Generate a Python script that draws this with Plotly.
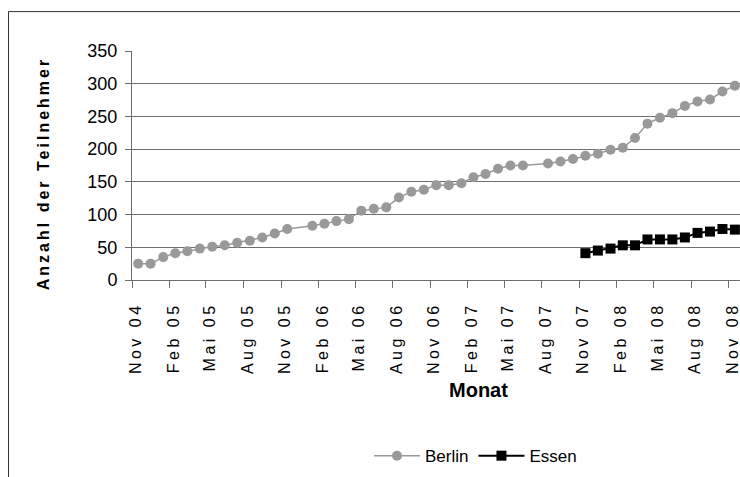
import plotly.graph_objects as go

# Monthly participant counts (one value per month, months without data are skipped)
berlin_months = [
    "2004-11", "2004-12", "2005-01", "2005-02", "2005-03", "2005-04", "2005-05",
    "2005-06", "2005-07", "2005-08", "2005-09", "2005-10", "2005-11",
    "2006-01", "2006-02", "2006-03", "2006-04", "2006-05", "2006-06", "2006-07",
    "2006-08", "2006-09", "2006-10", "2006-11", "2006-12",
    "2007-01", "2007-02", "2007-03", "2007-04", "2007-05", "2007-06",
    "2007-08", "2007-09", "2007-10", "2007-11", "2007-12",
    "2008-01", "2008-02", "2008-03", "2008-04", "2008-05", "2008-06",
    "2008-07", "2008-08", "2008-09", "2008-10", "2008-11",
]
berlin_values = [
    25, 25, 35, 41, 44, 48, 51, 53, 57, 60, 65, 71, 78,
    83, 86, 90, 93, 106, 109, 111, 126, 135, 138, 145, 145,
    148, 157, 162, 170, 175, 175,
    178, 181, 185, 190, 193,
    199, 202, 217, 239, 248, 255, 266, 273, 276, 288, 297,
]

essen_months = [
    "2007-11", "2007-12", "2008-01", "2008-02", "2008-03", "2008-04", "2008-05",
    "2008-06", "2008-07", "2008-08", "2008-09", "2008-10", "2008-11",
]
essen_values = [41, 45, 48, 53, 53, 62, 62, 62, 65, 72, 74, 78, 77]

tick_dates = [
    "2004-11-01", "2005-02-01", "2005-05-01", "2005-08-01", "2005-11-01",
    "2006-02-01", "2006-05-01", "2006-08-01", "2006-11-01", "2007-02-01",
    "2007-05-01", "2007-08-01", "2007-11-01", "2008-02-01", "2008-05-01",
    "2008-08-01", "2008-11-01",
]
tick_labels = [
    "Nov 04", "Feb 05", "Mai 05", "Aug 05", "Nov 05", "Feb 06", "Mai 06",
    "Aug 06", "Nov 06", "Feb 07", "Mai 07", "Aug 07", "Nov 07", "Feb 08",
    "Mai 08", "Aug 08", "Nov 08",
]

FONT = "Liberation Sans, Arial, sans-serif"
W, H = 740, 477
L, T, B = 132, 51, 196.5
plot_w = W - L
plot_h = H - T - B


def px_x(x):
    return (x - L) / plot_w


def px_y(y):
    return (H - B - y) / plot_h


def spaced(text, gap):
    return f'<span style="letter-spacing:{gap}px">{text}</span>'


fig = go.Figure()

fig.add_trace(go.Scatter(
    x=[m + "-01" for m in berlin_months], y=berlin_values,
    xperiod="M1", xperiodalignment="middle",
    mode="lines+markers", name="Berlin",
    line=dict(color="#999999", width=1.5),
    marker=dict(symbol="circle", size=10, color="#999999"),
))
fig.add_trace(go.Scatter(
    x=[m + "-01" for m in essen_months], y=essen_values,
    xperiod="M1", xperiodalignment="middle",
    mode="lines+markers", name="Essen",
    line=dict(color="#000000", width=2),
    marker=dict(symbol="square", size=10, color="#000000"),
))

fig.update_layout(
    width=W, height=H,
    margin=dict(l=L, r=0, t=T, b=B, pad=0),
    paper_bgcolor="white", plot_bgcolor="white",
    font=dict(family=FONT, color="#000000"),
    showlegend=True,
    legend=dict(
        orientation="h", x=px_x(369), y=px_y(457),
        xanchor="left", yanchor="middle",
        font=dict(size=17, family=FONT), bgcolor="rgba(0,0,0,0)",
        itemwidth=46, tracegroupgap=0,
    ),
    xaxis=dict(
        type="date",
        range=["2004-11-01", "2008-11-28 12:00"],
        tickmode="array", tickvals=tick_dates,
        ticktext=[spaced(t, 3.5) for t in tick_labels],
        tickangle=-90, ticklabelshift=4, ticklabelstandoff=8,
        ticklabeloverflow="allow",
        ticks="outside", ticklen=7, tickcolor="#6e6e6e", tickwidth=1,
        tickfont=dict(size=16, family=FONT),
        showline=True, linecolor="#6e6e6e", linewidth=1,
        showgrid=False, zeroline=False, automargin=False,
    ),
    yaxis=dict(
        range=[0, 350], tickmode="linear", tick0=0, dtick=50,
        ticks="outside", ticklen=6, tickcolor="#6e6e6e", tickwidth=1,
        tickfont=dict(size=18, family=FONT),
        showline=True, linecolor="#6e6e6e", linewidth=1,
        showgrid=True, gridcolor="#6e6e6e", gridwidth=1,
        zeroline=False, automargin=False, ticklabelstandoff=4,
    ),
    annotations=[
        dict(text=spaced("<b>Anzahl der Teilnehmer</b>", 3), textangle=-90,
             xref="paper", yref="paper", x=px_x(43), y=px_y(174.5),
             xanchor="center", yanchor="middle", showarrow=False,
             font=dict(size=16, family=FONT)),
        dict(text="<b>Monat</b>",
             xref="paper", yref="paper", x=px_x(478), y=px_y(391),
             xanchor="center", yanchor="middle", showarrow=False,
             font=dict(size=20, family=FONT)),
    ],
    shapes=[
        dict(type="rect", xref="paper", yref="paper",
             x0=px_x(8.5), x1=px_x(800), y0=px_y(520), y1=px_y(11.5),
             line=dict(color="#333333", width=1), fillcolor="rgba(0,0,0,0)",
             layer="below"),
    ],
)

fig.write_html("out.html")
